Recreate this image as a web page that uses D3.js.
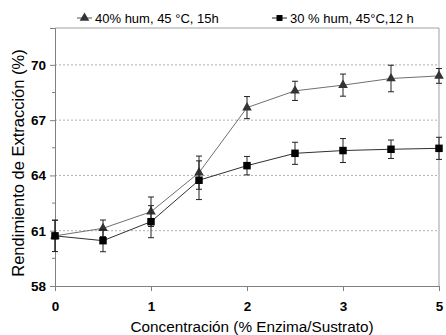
<!DOCTYPE html>
<html><head><meta charset="utf-8">
<script src="https://cdn.jsdelivr.net/npm/d3@7"></script>
<style>body{margin:0;background:#fff}svg{display:block;font-family:Arial,"Liberation Sans",sans-serif}</style>
</head><body>
<script>
// x positions on the category axis (index), tick labels shown under positions 0..4
const xPositions = [0, 0.5, 1, 1.5, 2, 2.5, 3, 3.5, 4];
const xTickValues = [0, 1, 2, 3, 4];
const xTickLabels = ["0", "1", "2", "3", "5"];
const yTicks = [58, 61, 64, 67, 70];
const seriesNames = ["40% hum, 45 °C, 15h", "30 % hum, 45°C,12 h"];
const hum40 = [60.72, 61.13, 62.03, 64.15, 67.68, 68.59, 68.9, 69.26, 69.4];
const hum40Err = [0.85, 0.45, 0.8, 0.9, 0.6, 0.52, 0.6, 0.72, 0.4];
const hum30 = [60.72, 60.46, 61.49, 63.74, 64.53, 65.2, 65.35, 65.42, 65.47];
const hum30Err = [0.85, 0.6, 0.87, 1.05, 0.5, 0.6, 0.65, 0.5, 0.6];

const W = 446, H = 335;
const m = {left: 55, right: 7, top: 28, bottom: 49};
const svg = d3.select("body").append("svg").attr("width", W).attr("height", H);
const x = d3.scaleLinear().domain([0, 4]).range([m.left, W - m.right]);
const y = d3.scaleLinear().domain([58, 72]).range([H - m.bottom, m.top]);

// grid
svg.append("g").selectAll("line").data(yTicks.filter(d => d > 58)).join("line")
  .attr("x1", x(0)).attr("x2", x(4)).attr("y1", d => y(d)).attr("y2", d => y(d))
  .attr("stroke", "#b0b0b0").attr("stroke-dasharray", "2,2").attr("stroke-width", 1);

// frame top/right
svg.append("line").attr("x1", x(0)).attr("x2", x(4)).attr("y1", y(72)).attr("y2", y(72)).attr("stroke", "#a0a0a0");
svg.append("line").attr("x1", x(4)).attr("x2", x(4)).attr("y1", y(72)).attr("y2", y(58)).attr("stroke", "#a0a0a0");

// axes
const yAxis = svg.append("g").attr("transform", `translate(${x(0)},0)`)
  .call(d3.axisLeft(y).tickValues(yTicks).tickSize(5).tickPadding(4).tickFormat(d3.format("d")));
const xAxis = svg.append("g").attr("transform", `translate(0,${y(58)})`)
  .call(d3.axisBottom(x).tickValues(xTickValues).tickSize(5).tickPadding(10).tickFormat((d, i) => xTickLabels[i]));
[yAxis, xAxis].forEach(a => {
  a.select(".domain").attr("stroke", "#808080");
  a.selectAll(".tick line").attr("stroke", "#808080");
  a.selectAll("text").attr("fill", "#000").style("font-size", "13.5px").style("font-weight", "bold")
    .style("font-family", "Arial,'Liberation Sans',sans-serif");
});
// minor y ticks between majors (small, on left)
svg.append("g").selectAll("line").data(d3.range(58, 71, 1.5).filter(d => !yTicks.includes(d))).join("line")
  .attr("x1", x(0) - 3).attr("x2", x(0)).attr("y1", d => y(d)).attr("y2", d => y(d)).attr("stroke", "#808080");

// axis titles
svg.append("text").attr("transform", `translate(24,${163}) rotate(-90)`)
  .attr("text-anchor", "middle").style("font-size", "16.5px").text("Rendimiento de Extracción (%)");
svg.append("text").attr("x", 252).attr("y", 332).attr("text-anchor", "middle")
  .style("font-size", "15.3px").text("Concentración (% Enzima/Sustrato)");

const line = d3.line().x((d, i) => x(xPositions[i])).y(d => y(d));

function drawSeries(vals, errs, lineColor, marker, markColor) {
  const g = svg.append("g");
  g.append("path").datum(vals).attr("d", line).attr("fill", "none").attr("stroke", lineColor).attr("stroke-width", 1);
  const eb = g.selectAll("g.eb").data(vals).join("g");
  eb.append("line").attr("x1", (d, i) => x(xPositions[i])).attr("x2", (d, i) => x(xPositions[i]))
    .attr("y1", (d, i) => y(d - errs[i])).attr("y2", (d, i) => y(d + errs[i])).attr("stroke", "#222");
  [-1, 1].forEach(s => {
    eb.append("line").attr("x1", (d, i) => x(xPositions[i]) - 3).attr("x2", (d, i) => x(xPositions[i]) + 3)
      .attr("y1", (d, i) => y(d + s * errs[i])).attr("y2", (d, i) => y(d + s * errs[i])).attr("stroke", "#222");
  });
  g.selectAll("path.mk").data(vals).join("path").attr("class", "mk")
    .attr("transform", (d, i) => `translate(${x(xPositions[i])},${y(d)})`)
    .attr("d", marker).attr("fill", markColor);
}
const tri = d3.symbol().type(d3.symbolTriangle).size(40)();
const sq = d3.symbol().type(d3.symbolSquare).size(56)();
drawSeries(hum40, hum40Err, "#707070", tri, "#333");
drawSeries(hum30, hum30Err, "#303030", sq, "#000");

// legend
const leg = [{name: seriesNames[0], x: 77, mk: tri, col: "#333", lc: "#555"}, {name: seriesNames[1], x: 272, mk: d3.symbol().type(d3.symbolSquare).size(36)(), col: "#000", lc: "#222"}];
leg.forEach(l => {
  const g = svg.append("g").attr("transform", `translate(${l.x},18)`);
  g.append("line").attr("x1", 0).attr("x2", 15).attr("stroke", l.lc);
  g.append("path").attr("d", l.mk).attr("transform", "translate(7.5,0)").attr("fill", l.col);
  g.append("text").attr("x", 18).attr("y", 5).style("font-size", "13px").text(l.name);
});
</script>
</body></html>
